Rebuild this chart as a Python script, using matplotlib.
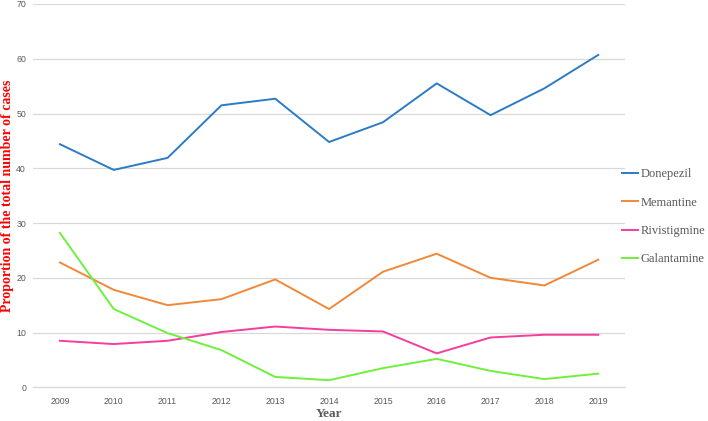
import matplotlib
matplotlib.use('Agg')
import matplotlib.pyplot as plt
import numpy as np

years = ['2009', '2010', '2011', '2012', '2013', '2014', '2015', '2016', '2017', '2018', '2019']
donepezil = [44.4, 39.7, 41.9, 51.5, 52.7, 44.8, 48.4, 55.5, 49.7, 54.6, 60.7]
memantine = [22.8, 17.8, 15.0, 16.1, 19.7, 14.3, 21.1, 24.4, 20.0, 18.6, 23.3]
rivistigmine = [8.5, 7.9, 8.5, 10.1, 11.1, 10.5, 10.2, 6.2, 9.1, 9.6, 9.6]
galantamine = [28.2, 14.3, 9.9, 6.8, 1.9, 1.3, 3.5, 5.2, 3.0, 1.5, 2.5]

series = [('Donepezil', donepezil, '#2C7BC6'),
          ('Memantine', memantine, '#F0883A'),
          ('Rivistigmine', rivistigmine, '#F53D9C'),
          ('Galantamine', galantamine, '#6EF03C')]

fig = plt.figure(figsize=(7.08, 4.21), dpi=100)
ax = fig.add_axes([0.0466, 0.080, 0.8364, 0.9105])

x = np.arange(len(years))
for name, vals, col in series:
    ax.plot(x, vals, color=col, lw=1.4, label=name, solid_joinstyle='round')

ax.set_xlim(-0.5, len(years) - 0.5)
ax.set_ylim(0, 70)
ax.set_yticks(range(0, 71, 10))
ax.set_xticks(x)
ax.set_xticklabels(years)
ax.grid(axis='y', color='#d9d9d9', lw=0.9)
ax.axhline(0, color='#d9d9d9', lw=0.9, clip_on=False, zorder=0)
ax.set_axisbelow(True)
for s in ax.spines.values():
    s.set_visible(False)
ax.tick_params(length=0, labelsize=6.3, labelcolor='#595959')
ax.tick_params(axis='y', pad=5)
ax.tick_params(axis='x', pad=7)
for lab in ax.get_xticklabels() + ax.get_yticklabels():
    lab.set_family('Liberation Sans')

# 坐标轴标题
fig.text(0.011, 0.536, 'Proportion of the total number of cases', rotation=90,
         ha='center', va='center', color='red', fontsize=10, fontweight='bold',
         family='Liberation Serif')
fig.text(0.465, 0.016, 'Year', ha='center', va='center', color='#595959',
         fontsize=9.5, fontweight='bold', family='Liberation Serif')

leg = ax.legend(loc='center left', bbox_to_anchor=(0.878, 0.485),
                bbox_transform=fig.transFigure, frameon=False,
                prop={'family': 'Liberation Serif', 'size': 9},
                handlelength=1.35, handletextpad=0.15, labelspacing=1.3,
                borderpad=0, borderaxespad=0)
for t in leg.get_texts():
    t.set_color('#595959')

fig.savefig('out.png', dpi=100)
